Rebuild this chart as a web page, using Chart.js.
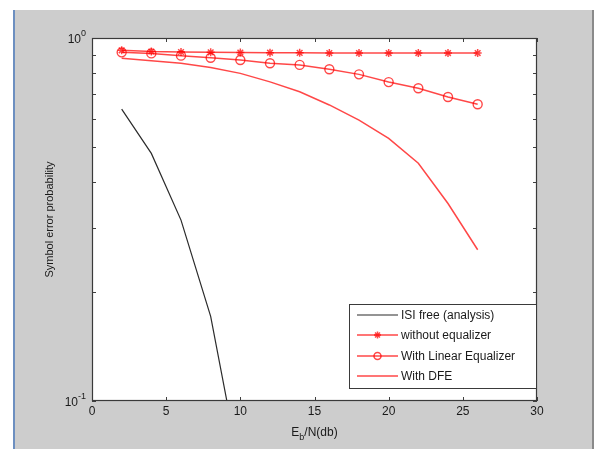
<!DOCTYPE html>
<html>
<head>
<meta charset="utf-8">
<script src="https://cdn.jsdelivr.net/npm/chart.js@4.4.1/dist/chart.umd.min.js"></script>
<style>
  html, body { margin: 0; padding: 0; background: #ffffff; }
  #wrap { width: 595px; height: 449px; }
</style>
</head>
<body>
<div id="wrap"><canvas id="serChart" width="595" height="449"></canvas></div>
<script>
// Eb/N (dB) points
const ebN = [2, 4, 6, 8, 10, 12, 14, 16, 18, 20, 22, 24, 26];
const ebNIsi = [2, 4, 6, 8, 10];

// symbol error probability
const isiFree = [0.637, 0.481, 0.315, 0.171, 0.064];
const noEqualizer = [0.925, 0.918, 0.915, 0.913, 0.912, 0.911, 0.910, 0.909, 0.909, 0.909, 0.909, 0.909, 0.909];
const linearEq = [0.913, 0.907, 0.894, 0.882, 0.870, 0.852, 0.843, 0.820, 0.794, 0.756, 0.727, 0.688, 0.657];
const dfe = [0.879, 0.866, 0.852, 0.829, 0.799, 0.757, 0.711, 0.654, 0.594, 0.529, 0.452, 0.350, 0.261];

const seriesNames = ['ISI free (analysis)', 'without equalizer', 'With Linear Equalizer', 'With DFE'];

const xTicks = [0, 5, 10, 15, 20, 25, 30];
const yTicks = [0.1, 0.2, 0.3, 0.4, 0.5, 0.6, 0.7, 0.8, 0.9, 1];

function toPoints(xs, ys) {
    return ys.map((v, i) => ({ x: xs[i], y: v }));
}

const RED = 'rgba(255, 0, 0, 0.72)';
const FONT = '"Liberation Sans", Arial, sans-serif';

// figure background, box, ticks, labels, legend (matlab look)
const matlabFrame = {
    id: 'matlabFrame',
    beforeDraw(chart) {
        const c = chart.ctx;
        const a = chart.chartArea;
        c.save();
        c.fillStyle = '#ffffff';
        c.fillRect(0, 0, chart.width, chart.height);
        c.fillStyle = '#cdcdcd';
        c.fillRect(13, 10, 580, 439);
        c.fillStyle = '#6d8fc0';
        c.fillRect(13, 10, 2, 439);
        c.fillStyle = '#8a8a8a';
        c.fillRect(592, 10, 2, 439);
        c.fillStyle = '#ffffff';
        c.fillRect(a.left, a.top, a.right - a.left, a.bottom - a.top);
        c.restore();
    },
    afterDraw(chart) {
        const c = chart.ctx;
        const a = chart.chartArea;
        const xs = chart.scales.x;
        const ys = chart.scales.y;
        c.save();

        // ticks pointing inwards
        c.strokeStyle = '#404040';
        c.lineWidth = 1;
        c.beginPath();
        xTicks.forEach(t => {
            const px = Math.round(xs.getPixelForValue(t)) + 0.5;
            c.moveTo(px, a.bottom); c.lineTo(px, a.bottom - 4);
            c.moveTo(px, a.top); c.lineTo(px, a.top + 4);
        });
        yTicks.forEach(t => {
            const py = Math.round(ys.getPixelForValue(t)) + 0.5;
            c.moveTo(a.left, py); c.lineTo(a.left + 4, py);
            c.moveTo(a.right, py); c.lineTo(a.right - 4, py);
        });
        c.stroke();

        // box
        c.strokeStyle = '#3a3a3a';
        c.lineWidth = 1.2;
        c.strokeRect(a.left + 0.5, a.top + 0.5, a.right - a.left - 1, a.bottom - a.top - 1);

        // x tick labels
        c.fillStyle = '#1a1a1a';
        c.font = '12px ' + FONT;
        c.textAlign = 'center';
        c.textBaseline = 'top';
        xTicks.forEach(t => {
            c.fillText(String(t), xs.getPixelForValue(t), a.bottom + 5);
        });

        // y tick labels 10^0 and 10^-1
        [[1, '0'], [0.1, '-1']].forEach(([v, ex]) => {
            const py = ys.getPixelForValue(v);
            c.font = '9px ' + FONT;
            c.textAlign = 'right';
            c.textBaseline = 'alphabetic';
            const exW = c.measureText(ex).width;
            c.fillText(ex, a.left - 6, py - 2);
            c.font = '12px ' + FONT;
            c.fillText('10', a.left - 6 - exW, py + 5);
        });

        // axis titles
        c.font = '11px ' + FONT;
        c.textBaseline = 'middle';
        c.textAlign = 'center';
        c.save();
        c.translate(50, (a.top + a.bottom) / 2);
        c.rotate(-Math.PI / 2);
        c.fillText('Symbol error probability', 0, 0);
        c.restore();

        const cx = (a.left + a.right) / 2;
        const ty = 433;
        c.textAlign = 'left';
        c.font = '12px ' + FONT;
        const wE = c.measureText('E').width;
        c.font = '9px ' + FONT;
        const wB = c.measureText('b').width;
        c.font = '12px ' + FONT;
        const wR = c.measureText('/N(db)').width;
        let x0 = cx - (wE + wB + wR) / 2;
        c.fillText('E', x0, ty);
        c.font = '9px ' + FONT;
        c.fillText('b', x0 + wE, ty + 5);
        c.font = '12px ' + FONT;
        c.fillText('/N(db)', x0 + wE + wB, ty);

        // legend box inside plot
        const lx = 349, ly = 304, lw = 187, lh = 84;
        c.fillStyle = '#ffffff';
        c.fillRect(lx, ly, lw, lh);
        c.strokeStyle = '#3a3a3a';
        c.lineWidth = 1;
        c.strokeRect(lx + 0.5, ly + 0.5, lw, lh);
        const rows = [315, 335, 356, 376];
        chart.data.datasets.forEach((ds, i) => {
            const ry = rows[i];
            c.strokeStyle = ds.borderColor;
            c.lineWidth = ds.borderWidth;
            c.beginPath();
            c.moveTo(357, ry); c.lineTo(398, ry);
            c.stroke();
            if (ds.pointStyle === 'star') {
                Chart.helpers.drawPoint(c, { pointStyle: 'star', radius: 3.5, borderWidth: 1.5 }, 377.5, ry);
            } else if (ds.pointStyle === 'circle' && ds.pointRadius > 0) {
                c.beginPath();
                c.arc(377.5, ry, 3.5, 0, Math.PI * 2);
                c.stroke();
            }
            c.fillStyle = '#1a1a1a';
            c.font = '12px ' + FONT;
            c.textAlign = 'left';
            c.textBaseline = 'middle';
            c.fillText(ds.label, 401, ry + 1);
        });

        c.restore();
    }
};

new Chart(document.getElementById('serChart'), {
    type: 'line',
    data: {
        datasets: [
            {
                label: seriesNames[0],
                data: toPoints(ebNIsi, isiFree),
                borderColor: '#2b2b2b',
                borderWidth: 1.2,
                pointRadius: 0,
                fill: false
            },
            {
                label: seriesNames[1],
                data: toPoints(ebN, noEqualizer),
                borderColor: RED,
                borderWidth: 1.5,
                pointStyle: 'star',
                pointRadius: 4,
                pointBorderWidth: 1.5,
                pointBorderColor: RED,
                fill: false
            },
            {
                label: seriesNames[2],
                data: toPoints(ebN, linearEq),
                borderColor: RED,
                borderWidth: 1.5,
                pointStyle: 'circle',
                pointRadius: 4.5,
                pointBorderWidth: 1.4,
                pointBorderColor: RED,
                pointBackgroundColor: 'rgba(0,0,0,0)',
                fill: false
            },
            {
                label: seriesNames[3],
                data: toPoints(ebN, dfe),
                borderColor: RED,
                borderWidth: 1.5,
                pointRadius: 0,
                fill: false
            }
        ]
    },
    options: {
        responsive: false,
        animation: false,
        layout: { padding: { left: 92, right: 58, top: 38, bottom: 48 } },
        plugins: {
            legend: { display: false },
            tooltip: { enabled: false }
        },
        scales: {
            x: { type: 'linear', min: 0, max: 30, display: false },
            y: { type: 'logarithmic', min: 0.1, max: 1, display: false }
        }
    },
    plugins: [matlabFrame]
});
</script>
</body>
</html>
